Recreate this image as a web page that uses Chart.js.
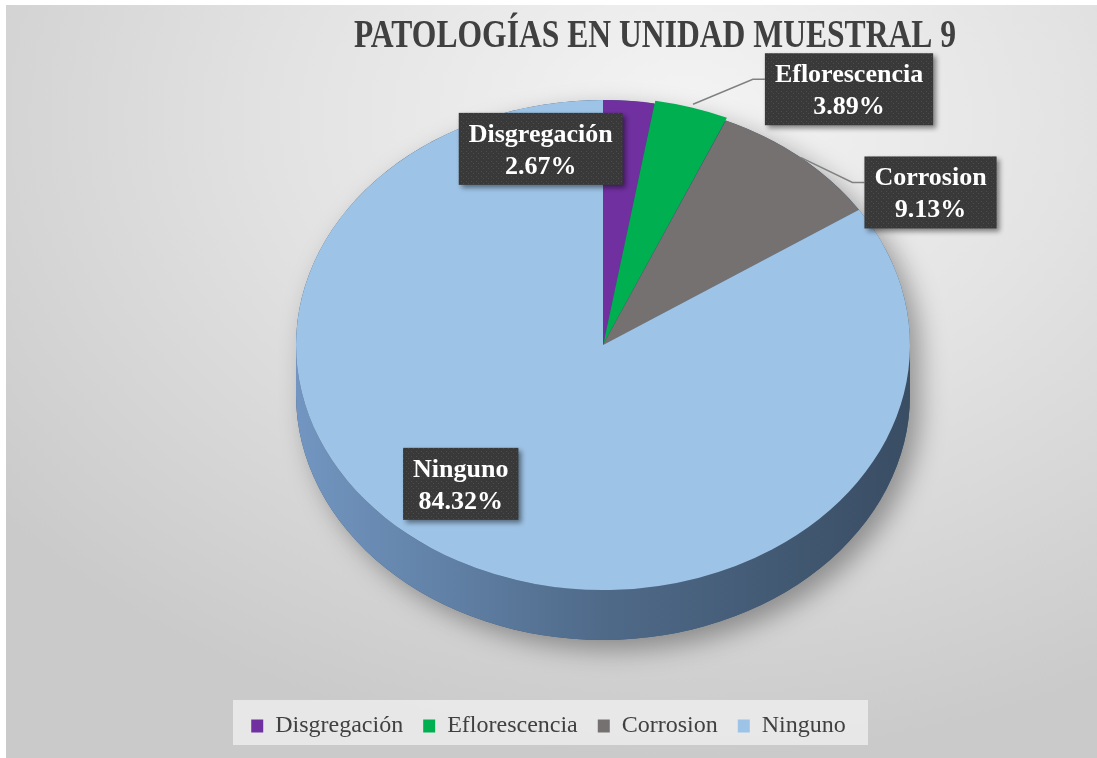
<!DOCTYPE html>
<html>
<head>
<meta charset="utf-8">
<script src="https://cdn.jsdelivr.net/npm/chart.js@4.4.1/dist/chart.umd.min.js"></script>
<style>
  html, body { margin: 0; padding: 0; background: #fff; overflow: hidden; }
  #fondo {
    position: absolute; left: 6px; top: 5px; width: 1091px; height: 753px;
    background: radial-gradient(ellipse 80% 85% at 62% 15%, #f4f4f4 0%, #e3e3e3 45%, #cacaca 100%);
  }
  #grafico { position: absolute; left: 0; top: 0; }
</style>
</head>
<body>
<div id="fondo"></div>
<canvas id="grafico" width="1097" height="758"></canvas>
<script>
// datos
const categorias = ['Disgregación', 'Eflorescencia', 'Corrosion', 'Ninguno'];
const porcentajes = [2.67, 3.89, 9.13, 84.32];
const titulo = 'PATOLOGÍAS EN UNIDAD MUESTRAL 9';

const colores = ['#7030A0', '#00B050', '#767171', '#9DC3E6'];
// color del canto (lado) de cada porción: [izquierda, centro, derecha]
const coloresLado = [
  ['#4e1f73', '#43195f', '#36134d'],
  ['#00803f', '#006a34', '#005529'],
  ['#5a5656', '#4b4848', '#3d3a3a'],
  ['#7296c1', '#4f6a89', '#394d63'],
];
const separacion = [0, 8, 0, 0];

const FUENTE = '"Liberation Serif", "Times New Roman", serif';

// pastel aplanado: centro, radios y grosor
const PIE = { cx: 603, cy: 345, rx: 307, ry: 245, depth: 50 };
// desplazamiento de cada etiqueta respecto al borde de su porción
const ETIQ = [
  { dx: -88, dy: 48, linea: false },
  { dx: 156, dy: -15, linea: true },
  { dx: 130, dy: 35, linea: true },
  { dx: 3, dy: -77, linea: false },
];
const LEYENDA_CAJA = { x: 233, y: 700, w: 635, h: 45 };

// textura punteada de las cajas de etiqueta
function patronCaja(ctx) {
  const c = document.createElement('canvas');
  c.width = 5; c.height = 5;
  const p = c.getContext('2d');
  p.fillStyle = '#393939'; p.fillRect(0, 0, 5, 5);
  p.fillStyle = '#4d4d4d'; p.fillRect(1, 1, 1, 1); p.fillRect(3, 3, 1, 1);
  return ctx.createPattern(c, 'repeat');
}

function gradLado(ctx, i) {
  const g = ctx.createLinearGradient(PIE.cx - PIE.rx, 0, PIE.cx + PIE.rx, 0);
  g.addColorStop(0, coloresLado[i][0]);
  g.addColorStop(0.5, coloresLado[i][1]);
  g.addColorStop(1, coloresLado[i][2]);
  return g;
}

const pastel3d = {
  id: 'pastel3d',
  beforeDraw(chart) {
    const ctx = chart.ctx;
    const b = LEYENDA_CAJA;
    ctx.save();
    ctx.fillStyle = 'rgba(236,236,236,0.85)';
    ctx.fillRect(b.x, b.y, b.w, b.h);
    ctx.restore();
  },
  beforeDatasetsDraw(chart) {
    const ctx = chart.ctx;
    const meta = chart.getDatasetMeta(0);
    const { x, y, outerRadius: R } = meta.data[0];
    const { cx, cy, rx, ry, depth } = PIE;

    // sombra suave bajo el pastel
    ctx.save();
    ctx.shadowColor = 'rgba(0,0,0,0.35)';
    ctx.shadowBlur = 26;
    ctx.shadowOffsetX = 10;
    ctx.shadowOffsetY = 10;
    ctx.fillStyle = '#3f566f';
    ctx.beginPath();
    ctx.ellipse(cx, cy + depth, rx, ry, 0, 0, Math.PI);
    ctx.ellipse(cx, cy, rx, ry, 0, Math.PI, Math.PI * 2);
    ctx.closePath();
    ctx.fill();
    ctx.restore();

    // canto visible (mitad delantera)
    meta.data.forEach((arc, i) => {
      for (let k = -1; k <= 1; k++) {
        const lo = Math.max(arc.startAngle, k * 2 * Math.PI);
        const hi = Math.min(arc.endAngle, k * 2 * Math.PI + Math.PI);
        if (hi <= lo) continue;
        ctx.fillStyle = gradLado(ctx, i);
        ctx.beginPath();
        ctx.ellipse(cx, cy, rx, ry, 0, lo, hi);
        ctx.ellipse(cx, cy + depth, rx, ry, 0, hi, lo, true);
        ctx.closePath();
        ctx.fill();
      }
    });

    // la cara superior se dibuja aplanada
    ctx.save();
    ctx.translate(cx, cy);
    ctx.scale(rx / R, ry / R);
    ctx.translate(-x, -y);
  },
  afterDatasetsDraw(chart) {
    const ctx = chart.ctx;
    ctx.restore();

    const meta = chart.getDatasetMeta(0);
    const R = meta.data[0].outerRadius;
    const patron = patronCaja(ctx);
    ctx.font = 'bold 26px ' + FUENTE;

    meta.data.forEach((arc, i) => {
      const mid = (arc.startAngle + arc.endAngle) / 2;
      const f = 1 + (arc.options.offset || 0) / R;
      const ax = PIE.cx + Math.cos(mid) * PIE.rx * f;
      const ay = PIE.cy + Math.sin(mid) * PIE.ry * f;
      const l1 = categorias[i];
      const l2 = porcentajes[i].toFixed(2) + '%';
      const w = Math.max(ctx.measureText(l1).width, ctx.measureText(l2).width) + 20;
      const h = 72;
      const left = ax + ETIQ[i].dx - w / 2;
      const top = ay + ETIQ[i].dy - h / 2;

      if (ETIQ[i].linea) {
        ctx.save();
        ctx.strokeStyle = '#808080';
        ctx.lineWidth = 1.5;
        ctx.beginPath();
        ctx.moveTo(ax, ay);
        ctx.lineTo(left - 12, top + 26);
        ctx.lineTo(left, top + 26);
        ctx.stroke();
        ctx.restore();
      }

      ctx.save();
      ctx.shadowColor = 'rgba(0,0,0,0.45)';
      ctx.shadowBlur = 5;
      ctx.shadowOffsetX = 3;
      ctx.shadowOffsetY = 3;
      ctx.fillStyle = patron;
      ctx.fillRect(left, top, w, h);
      ctx.restore();

      ctx.fillStyle = '#ffffff';
      ctx.textAlign = 'center';
      ctx.textBaseline = 'alphabetic';
      ctx.fillText(l1, left + w / 2, top + 29);
      ctx.fillText(l2, left + w / 2, top + 61);
    });
  },
  afterDraw(chart) {
    const ctx = chart.ctx;
    ctx.save();
    ctx.translate(655, 47);
    ctx.scale(0.79, 1);
    ctx.font = 'bold 40px ' + FUENTE;
    ctx.fillStyle = '#404040';
    ctx.textAlign = 'center';
    ctx.textBaseline = 'alphabetic';
    ctx.fillText(titulo, 0, 0);
    ctx.restore();
  },
};

new Chart(document.getElementById('grafico'), {
  type: 'pie',
  data: {
    labels: categorias,
    datasets: [{
      data: porcentajes,
      backgroundColor: colores,
      borderWidth: 0,
      offset: separacion,
      clip: false,
    }],
  },
  options: {
    responsive: false,
    animation: false,
    events: [],
    layout: { padding: { top: 60, bottom: 10, left: 20, right: 20 } },
    plugins: {
      title: { display: false },
      tooltip: { enabled: false },
      legend: {
        display: true,
        position: 'bottom',
        labels: {
          font: { family: FUENTE, size: 24 },
          color: '#404040',
          boxWidth: 12,
          boxHeight: 13,
          padding: 20,
        },
      },
    },
  },
  plugins: [pastel3d],
});
</script>
</body>
</html>
